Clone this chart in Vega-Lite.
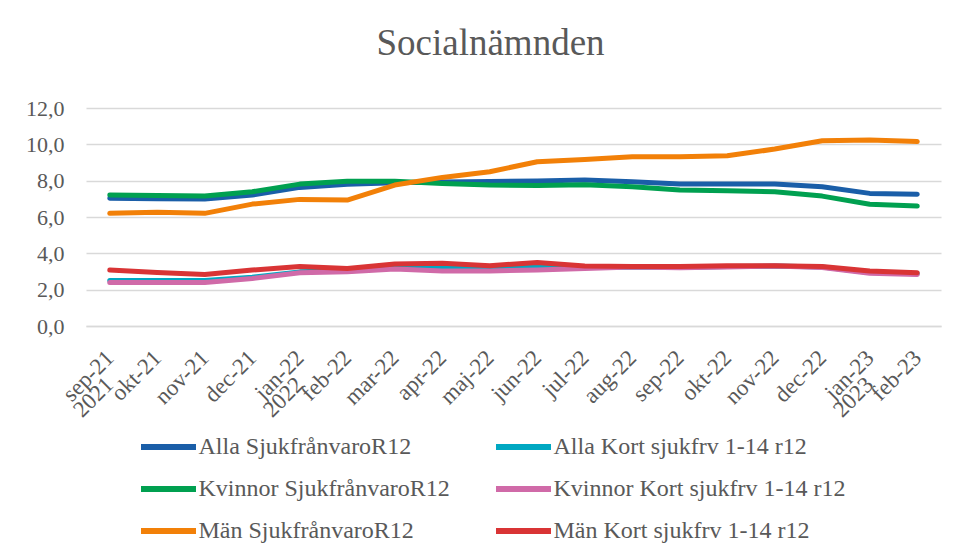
{
  "$schema": "https://vega.github.io/schema/vega-lite/v6.json",
  "autosize": "none",
  "width": 855,
  "height": 218,
  "padding": {"left": 86, "top": 108, "right": 18, "bottom": 233},
  "background": "white",
  "config": {
    "view": {"stroke": null},
    "font": "Liberation Serif",
    "axis": {"labelFont": "Liberation Serif", "labelColor": "#595959", "titleColor": "#595959"}
  },
  "title": {
    "text": "Socialnämnden",
    "font": "Liberation Serif",
    "fontSize": 37,
    "fontWeight": "normal",
    "color": "#595959",
    "anchor": "middle",
    "dx": -23,
    "baseline": "alphabetic",
    "offset": 5
  },
  "datasets": {
    "series": [
      {"month": "sep-21", "series": "Alla SjukfrånvaroR12", "value": 7.03},
      {"month": "okt-21", "series": "Alla SjukfrånvaroR12", "value": 7.01},
      {"month": "nov-21", "series": "Alla SjukfrånvaroR12", "value": 6.99},
      {"month": "dec-21", "series": "Alla SjukfrånvaroR12", "value": 7.21},
      {"month": "jan-22", "series": "Alla SjukfrånvaroR12", "value": 7.63},
      {"month": "feb-22", "series": "Alla SjukfrånvaroR12", "value": 7.80},
      {"month": "mar-22", "series": "Alla SjukfrånvaroR12", "value": 7.89},
      {"month": "apr-22", "series": "Alla SjukfrånvaroR12", "value": 7.92},
      {"month": "maj-22", "series": "Alla SjukfrånvaroR12", "value": 7.96},
      {"month": "jun-22", "series": "Alla SjukfrånvaroR12", "value": 7.98},
      {"month": "jul-22", "series": "Alla SjukfrånvaroR12", "value": 8.03},
      {"month": "aug-22", "series": "Alla SjukfrånvaroR12", "value": 7.94},
      {"month": "sep-22", "series": "Alla SjukfrånvaroR12", "value": 7.81},
      {"month": "okt-22", "series": "Alla SjukfrånvaroR12", "value": 7.81},
      {"month": "nov-22", "series": "Alla SjukfrånvaroR12", "value": 7.81},
      {"month": "dec-22", "series": "Alla SjukfrånvaroR12", "value": 7.67},
      {"month": "jan-23", "series": "Alla SjukfrånvaroR12", "value": 7.30},
      {"month": "feb-23", "series": "Alla SjukfrånvaroR12", "value": 7.25},

      {"month": "sep-21", "series": "Alla Kort sjukfrv 1-14 r12", "value": 2.50},
      {"month": "okt-21", "series": "Alla Kort sjukfrv 1-14 r12", "value": 2.50},
      {"month": "nov-21", "series": "Alla Kort sjukfrv 1-14 r12", "value": 2.50},
      {"month": "dec-21", "series": "Alla Kort sjukfrv 1-14 r12", "value": 2.68},
      {"month": "jan-22", "series": "Alla Kort sjukfrv 1-14 r12", "value": 2.98},
      {"month": "feb-22", "series": "Alla Kort sjukfrv 1-14 r12", "value": 3.05},
      {"month": "mar-22", "series": "Alla Kort sjukfrv 1-14 r12", "value": 3.22},
      {"month": "apr-22", "series": "Alla Kort sjukfrv 1-14 r12", "value": 3.20},
      {"month": "maj-22", "series": "Alla Kort sjukfrv 1-14 r12", "value": 3.15},
      {"month": "jun-22", "series": "Alla Kort sjukfrv 1-14 r12", "value": 3.25},
      {"month": "jul-22", "series": "Alla Kort sjukfrv 1-14 r12", "value": 3.22},
      {"month": "aug-22", "series": "Alla Kort sjukfrv 1-14 r12", "value": 3.25},
      {"month": "sep-22", "series": "Alla Kort sjukfrv 1-14 r12", "value": 3.22},
      {"month": "okt-22", "series": "Alla Kort sjukfrv 1-14 r12", "value": 3.27},
      {"month": "nov-22", "series": "Alla Kort sjukfrv 1-14 r12", "value": 3.30},
      {"month": "dec-22", "series": "Alla Kort sjukfrv 1-14 r12", "value": 3.25},
      {"month": "jan-23", "series": "Alla Kort sjukfrv 1-14 r12", "value": 2.95},
      {"month": "feb-23", "series": "Alla Kort sjukfrv 1-14 r12", "value": 2.88},

      {"month": "sep-21", "series": "Kvinnor SjukfrånvaroR12", "value": 7.21},
      {"month": "okt-21", "series": "Kvinnor SjukfrånvaroR12", "value": 7.18},
      {"month": "nov-21", "series": "Kvinnor SjukfrånvaroR12", "value": 7.15},
      {"month": "dec-21", "series": "Kvinnor SjukfrånvaroR12", "value": 7.39},
      {"month": "jan-22", "series": "Kvinnor SjukfrånvaroR12", "value": 7.81},
      {"month": "feb-22", "series": "Kvinnor SjukfrånvaroR12", "value": 7.97},
      {"month": "mar-22", "series": "Kvinnor SjukfrånvaroR12", "value": 7.97},
      {"month": "apr-22", "series": "Kvinnor SjukfrånvaroR12", "value": 7.85},
      {"month": "maj-22", "series": "Kvinnor SjukfrånvaroR12", "value": 7.76},
      {"month": "jun-22", "series": "Kvinnor SjukfrånvaroR12", "value": 7.73},
      {"month": "jul-22", "series": "Kvinnor SjukfrånvaroR12", "value": 7.78},
      {"month": "aug-22", "series": "Kvinnor SjukfrånvaroR12", "value": 7.67},
      {"month": "sep-22", "series": "Kvinnor SjukfrånvaroR12", "value": 7.48},
      {"month": "okt-22", "series": "Kvinnor SjukfrånvaroR12", "value": 7.45},
      {"month": "nov-22", "series": "Kvinnor SjukfrånvaroR12", "value": 7.39},
      {"month": "dec-22", "series": "Kvinnor SjukfrånvaroR12", "value": 7.15},
      {"month": "jan-23", "series": "Kvinnor SjukfrånvaroR12", "value": 6.70},
      {"month": "feb-23", "series": "Kvinnor SjukfrånvaroR12", "value": 6.60},

      {"month": "sep-21", "series": "Kvinnor Kort sjukfrv 1-14 r12", "value": 2.40},
      {"month": "okt-21", "series": "Kvinnor Kort sjukfrv 1-14 r12", "value": 2.40},
      {"month": "nov-21", "series": "Kvinnor Kort sjukfrv 1-14 r12", "value": 2.40},
      {"month": "dec-21", "series": "Kvinnor Kort sjukfrv 1-14 r12", "value": 2.62},
      {"month": "jan-22", "series": "Kvinnor Kort sjukfrv 1-14 r12", "value": 2.93},
      {"month": "feb-22", "series": "Kvinnor Kort sjukfrv 1-14 r12", "value": 2.99},
      {"month": "mar-22", "series": "Kvinnor Kort sjukfrv 1-14 r12", "value": 3.14},
      {"month": "apr-22", "series": "Kvinnor Kort sjukfrv 1-14 r12", "value": 3.03},
      {"month": "maj-22", "series": "Kvinnor Kort sjukfrv 1-14 r12", "value": 3.03},
      {"month": "jun-22", "series": "Kvinnor Kort sjukfrv 1-14 r12", "value": 3.08},
      {"month": "jul-22", "series": "Kvinnor Kort sjukfrv 1-14 r12", "value": 3.17},
      {"month": "aug-22", "series": "Kvinnor Kort sjukfrv 1-14 r12", "value": 3.25},
      {"month": "sep-22", "series": "Kvinnor Kort sjukfrv 1-14 r12", "value": 3.20},
      {"month": "okt-22", "series": "Kvinnor Kort sjukfrv 1-14 r12", "value": 3.25},
      {"month": "nov-22", "series": "Kvinnor Kort sjukfrv 1-14 r12", "value": 3.30},
      {"month": "dec-22", "series": "Kvinnor Kort sjukfrv 1-14 r12", "value": 3.22},
      {"month": "jan-23", "series": "Kvinnor Kort sjukfrv 1-14 r12", "value": 2.90},
      {"month": "feb-23", "series": "Kvinnor Kort sjukfrv 1-14 r12", "value": 2.84},

      {"month": "sep-21", "series": "Män SjukfrånvaroR12", "value": 6.20},
      {"month": "okt-21", "series": "Män SjukfrånvaroR12", "value": 6.26},
      {"month": "nov-21", "series": "Män SjukfrånvaroR12", "value": 6.20},
      {"month": "dec-21", "series": "Män SjukfrånvaroR12", "value": 6.71},
      {"month": "jan-22", "series": "Män SjukfrånvaroR12", "value": 6.97},
      {"month": "feb-22", "series": "Män SjukfrånvaroR12", "value": 6.93},
      {"month": "mar-22", "series": "Män SjukfrånvaroR12", "value": 7.76},
      {"month": "apr-22", "series": "Män SjukfrånvaroR12", "value": 8.18},
      {"month": "maj-22", "series": "Män SjukfrånvaroR12", "value": 8.49},
      {"month": "jun-22", "series": "Män SjukfrånvaroR12", "value": 9.04},
      {"month": "jul-22", "series": "Män SjukfrånvaroR12", "value": 9.17},
      {"month": "aug-22", "series": "Män SjukfrånvaroR12", "value": 9.32},
      {"month": "sep-22", "series": "Män SjukfrånvaroR12", "value": 9.32},
      {"month": "okt-22", "series": "Män SjukfrånvaroR12", "value": 9.37},
      {"month": "nov-22", "series": "Män SjukfrånvaroR12", "value": 9.74},
      {"month": "dec-22", "series": "Män SjukfrånvaroR12", "value": 10.20},
      {"month": "jan-23", "series": "Män SjukfrånvaroR12", "value": 10.24},
      {"month": "feb-23", "series": "Män SjukfrånvaroR12", "value": 10.15},

      {"month": "sep-21", "series": "Män Kort sjukfrv 1-14 r12", "value": 3.08},
      {"month": "okt-21", "series": "Män Kort sjukfrv 1-14 r12", "value": 2.95},
      {"month": "nov-21", "series": "Män Kort sjukfrv 1-14 r12", "value": 2.84},
      {"month": "dec-21", "series": "Män Kort sjukfrv 1-14 r12", "value": 3.08},
      {"month": "jan-22", "series": "Män Kort sjukfrv 1-14 r12", "value": 3.27},
      {"month": "feb-22", "series": "Män Kort sjukfrv 1-14 r12", "value": 3.17},
      {"month": "mar-22", "series": "Män Kort sjukfrv 1-14 r12", "value": 3.41},
      {"month": "apr-22", "series": "Män Kort sjukfrv 1-14 r12", "value": 3.45},
      {"month": "maj-22", "series": "Män Kort sjukfrv 1-14 r12", "value": 3.32},
      {"month": "jun-22", "series": "Män Kort sjukfrv 1-14 r12", "value": 3.50},
      {"month": "jul-22", "series": "Män Kort sjukfrv 1-14 r12", "value": 3.30},
      {"month": "aug-22", "series": "Män Kort sjukfrv 1-14 r12", "value": 3.27},
      {"month": "sep-22", "series": "Män Kort sjukfrv 1-14 r12", "value": 3.27},
      {"month": "okt-22", "series": "Män Kort sjukfrv 1-14 r12", "value": 3.32},
      {"month": "nov-22", "series": "Män Kort sjukfrv 1-14 r12", "value": 3.32},
      {"month": "dec-22", "series": "Män Kort sjukfrv 1-14 r12", "value": 3.27},
      {"month": "jan-23", "series": "Män Kort sjukfrv 1-14 r12", "value": 3.03},
      {"month": "feb-23", "series": "Män Kort sjukfrv 1-14 r12", "value": 2.93}
    ],
    "years": [
      {"month": "sep-21", "year": "2021"},
      {"month": "jan-22", "year": "2022"},
      {"month": "jan-23", "year": "2023"}
    ]
  },
  "encoding": {
    "x": {
      "field": "month",
      "type": "ordinal",
      "scale": {"type": "point", "padding": 0.5, "domain": ["sep-21","okt-21","nov-21","dec-21","jan-22","feb-22","mar-22","apr-22","maj-22","jun-22","jul-22","aug-22","sep-22","okt-22","nov-22","dec-22","jan-23","feb-23"]},
      "axis": {
        "title": null,
        "labelAngle": -45,
        "labelAlign": "right",
        "labelBaseline": "middle",
        "labelFontSize": 23,
        "labelPadding": 28,
        "labelOverlap": false,
        "ticks": false,
        "domainColor": "#d9d9d9",
        "domainWidth": 1.5,
        "grid": false
      }
    }
  },
  "layer": [
    {
      "data": {"name": "series"},
      "mark": {"type": "line", "strokeWidth": 5, "strokeCap": "round", "strokeJoin": "round"},
      "encoding": {
        "y": {
          "field": "value",
          "type": "quantitative",
          "scale": {"domain": [0, 12], "nice": false, "zero": false},
          "axis": {
            "title": null,
            "values": [0, 2, 4, 6, 8, 10, 12],
            "labelExpr": "replace(format(datum.value, '.1f'), '.', ',')",
            "labelFontSize": 22,
            "labelPadding": 22,
            "labelOverlap": false,
            "ticks": false,
            "domain": false,
            "gridColor": "#d9d9d9",
            "gridWidth": 1.5
          }
        },
        "color": {
          "field": "series",
          "type": "nominal",
          "scale": {
            "domain": ["Alla SjukfrånvaroR12", "Alla Kort sjukfrv 1-14 r12", "Kvinnor SjukfrånvaroR12", "Kvinnor Kort sjukfrv 1-14 r12", "Män SjukfrånvaroR12", "Män Kort sjukfrv 1-14 r12"],
            "range": ["#1a5ea8", "#00a8c2", "#00a050", "#d06aa8", "#f28008", "#d93435"]
          },
          "legend": {
            "title": null,
            "orient": "none",
            "direction": "horizontal",
            "legendX": 70.5,
            "legendY": 327,
            "columns": 2,
            "gridAlign": "each",
            "columnPadding": 33,
            "rowPadding": 18,
            "symbolType": "M-4.23,0H4.23",
            "symbolSize": 169,
            "symbolStrokeWidth": 6,
            "labelFont": "Liberation Serif",
            "labelFontSize": 24,
            "labelColor": "#595959",
            "labelOffset": 18,
            "labelLimit": 400
          }
        }
      }
    },
    {
      "data": {"name": "years"},
      "mark": {"type": "text", "angle": -45, "align": "right", "baseline": "middle", "font": "Liberation Serif", "fontSize": 23, "color": "#595959"},
      "encoding": {
        "y": {
          "datum": -3.03,
          "type": "quantitative",
          "scale": {"domain": [0, 12], "nice": false, "zero": false},
          "axis": {
            "title": null,
            "values": [0, 2, 4, 6, 8, 10, 12],
            "labelExpr": "replace(format(datum.value, '.1f'), '.', ',')",
            "labelFontSize": 22,
            "labelPadding": 22,
            "labelOverlap": false,
            "ticks": false,
            "domain": false,
            "gridColor": "#d9d9d9",
            "gridWidth": 1.5
          }
        },
        "text": {"field": "year"}
      }
    }
  ]
}
